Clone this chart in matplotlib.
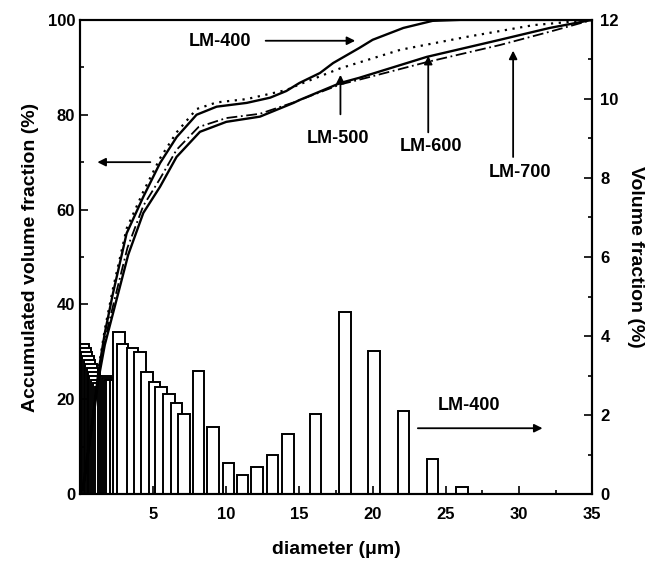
import numpy as np
import matplotlib.pyplot as plt

plt.rcParams['font.family'] = ['Liberation Sans', 'DejaVu Sans']

# histogramme LM-400 (axe droit, %)
bar_d = [0.25, 0.35, 0.45, 0.55, 0.65, 0.75, 0.85, 0.95, 1.05, 1.15, 1.3, 1.45,
         1.6, 1.75, 1.9, 2.05, 2.2, 2.45, 2.65, 2.9, 3.6, 4.1, 4.6, 5.1, 5.55,
         6.1, 6.6, 7.1, 8.1, 9.1, 10.15, 11.1, 12.1, 13.15, 14.2, 16.1, 18.1,
         20.1, 22.1, 24.1, 26.1]
bar_h = [3.8, 3.7, 3.6, 3.5, 3.4, 3.3, 3.2, 3.1, 3.0, 2.9, 2.8, 2.7,
         2.9, 3.0, 2.95, 2.9, 2.9, 2.9, 4.1, 3.8, 3.7, 3.6, 3.1, 2.83, 2.71,
         2.53, 2.3, 2.02, 3.11, 1.7, 0.78, 0.48, 0.68, 1.0, 1.52, 2.02, 4.6,
         3.62, 2.1, 0.89, 0.17]

# courbes cumulées (axe gauche, %)
d400 = [0.2, 0.6, 1.0, 1.25, 1.7, 2.26, 3.19, 4.33, 5.47, 6.61, 7.97, 9.34,
        11.4, 13.0, 14.1, 15.0, 16.4, 17.3, 19.1, 20.0, 22.1, 24.1, 26.0, 35.0]
v400 = [1, 10, 19, 25.5, 34, 42.4, 55, 62.7, 69.8, 75.3, 80, 81.7,
        82.5, 83.6, 85.0, 86.7, 88.8, 90.9, 94.1, 95.8, 98.3, 99.8, 100, 100]

d500 = [0.2, 0.6, 1.0, 1.25, 1.7, 2.26, 3.19, 4.33, 5.47, 6.61, 7.97, 9.34,
        11.4, 14.1, 15.0, 17.8, 21.9, 26.4, 31.0, 35.0]
v500 = [1, 10.5, 19.5, 26, 34.8, 43.4, 56, 63.8, 70.8, 76.3, 81.2, 82.6,
        83.3, 85.2, 86.4, 89.8, 93.7, 96.4, 98.9, 100]

d600 = [0.2, 0.6, 1.0, 1.25, 1.7, 2.5, 3.3, 4.33, 5.47, 6.6, 8.2, 10.0,
        12.3, 14.6, 15.0, 17.8, 19.1, 23.7, 28.7, 32.1, 35.0]
v600 = [1, 9.5, 18, 24, 31.5, 41, 50.5, 59.3, 64.8, 71.1, 76.4, 78.5,
        79.6, 82.5, 83.1, 86.7, 87.8, 92.2, 95.8, 98.3, 100]

d700 = [0.2, 0.6, 1.0, 1.25, 1.7, 2.4, 3.25, 4.33, 5.47, 6.6, 8.1, 10.0,
        12.3, 14.6, 17.8, 19.1, 23.7, 28.7, 32.1, 35.0]
v700 = [1, 9.8, 18.5, 24.8, 32.5, 41.5, 52, 60.8, 66.5, 72.6, 77.4, 79.3,
        80.2, 82.6, 86.4, 87.4, 91.1, 94.7, 97.5, 100]

fig, ax = plt.subplots(figsize=(6.5, 5.68), dpi=100)
fig.subplots_adjust(left=0.123, right=0.911, bottom=0.130, top=0.965)
ax2 = ax.twinx()

ax2.bar(bar_d, bar_h, width=0.8, facecolor='white', edgecolor='black', linewidth=1.4)

ax.plot(d400, v400, color='black', lw=1.7)
ax.plot(d500, v500, color='black', lw=1.6, linestyle=(0, (1, 2.5)))
ax.plot(d600, v600, color='black', lw=1.7)
ax.plot(d700, v700, color='black', lw=1.3, linestyle=(0, (6, 2, 1, 2)))

# axe gauche au-dessus des barres
ax.set_zorder(ax2.get_zorder() + 1)
ax.patch.set_visible(False)

ax.set_xlim(0, 35)
ax.set_ylim(0, 100)
ax2.set_ylim(0, 12)
ax.set_xticks([5, 10, 15, 20, 25, 30, 35])
ax.set_xticks(np.arange(0, 35.1, 2.5), minor=True)
ax.set_yticks(np.arange(0, 101, 20))
ax.set_yticks(np.arange(0, 101, 10), minor=True)
ax2.set_yticks(np.arange(0, 13, 2))
ax2.set_yticks(np.arange(0, 13, 1), minor=True)

for a in (ax, ax2):
    a.tick_params(which='both', direction='in', labelsize=12, width=1.2)
    a.tick_params(which='major', length=6)
    a.tick_params(which='minor', length=3)
    for lab in a.get_xticklabels() + a.get_yticklabels():
        lab.set_fontweight('bold')
    for s in a.spines.values():
        s.set_linewidth(1.5)
ax.tick_params(axis='x', pad=9)
ax2.tick_params(axis='y', pad=6)

ax.set_xlabel("diameter (\u03bcm)", fontsize=14, fontweight='bold', labelpad=14)
ax.set_ylabel("Accumulated volume fraction (%)", fontsize=14, fontweight='bold', labelpad=6)
ax2.set_ylabel("Volume fraction (%)", fontsize=14, fontweight='bold', rotation=270, labelpad=18)

arr = dict(arrowstyle='-|>', color='black', lw=1.3, mutation_scale=12)
tkw = dict(fontsize=13, fontweight='bold', ha='center', va='center')

ax.text(9.6, 95.5, "LM-400", **tkw)
ax.annotate("", xy=(19.0, 95.6), xytext=(12.5, 95.6), arrowprops=arr)
ax.annotate("", xy=(1.0, 70), xytext=(5.0, 70), arrowprops=arr)

ax.text(17.6, 74.9, "LM-500", **tkw)
ax.annotate("", xy=(17.8, 89.0), xytext=(17.8, 79.5), arrowprops=arr)
ax.text(24.0, 73.2, "LM-600", **tkw)
ax.annotate("", xy=(23.8, 93.0), xytext=(23.8, 75.7), arrowprops=arr)
ax.text(30.1, 67.9, "LM-700", **tkw)
ax.annotate("", xy=(29.6, 94.1), xytext=(29.6, 70.5), arrowprops=arr)

ax.text(26.6, 18.6, "LM-400", **tkw)
ax.annotate("", xy=(31.8, 13.9), xytext=(22.9, 13.9), arrowprops=arr)

plt.savefig("out.png", dpi=100)
